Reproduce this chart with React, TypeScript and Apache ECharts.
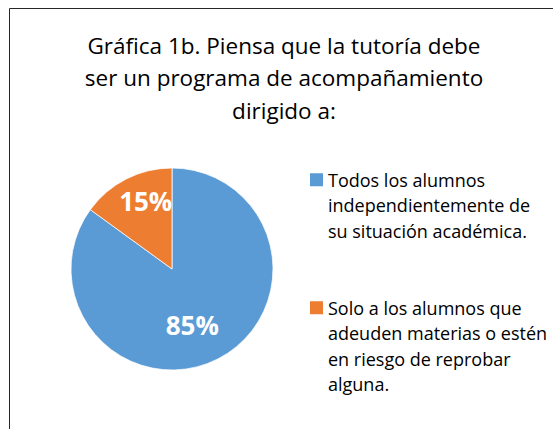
import React, { useEffect, useRef } from "react";
import * as echarts from "echarts";

const titleLines = [
  "Gráfica 1b. Piensa que la tutoría debe",
  "ser un programa de acompañamiento",
  "dirigido a:",
];
const categoryLines = [
  ["Todos los alumnos", "independientemente de", "su situación académica."],
  ["Solo a los alumnos que", "adeuden materias o estén", "en riesgo de reprobar", "alguna."],
];
const categories = categoryLines.map((l) => l.join(" "));
const values = [85, 15];
const colors = ["#5B9BD5", "#ED7D31"];

const FONT = '"Open Sans", sans-serif';
const LEG_LH = 25.5;
const ICON = 13;

function iconPath(nLines: number) {
  const h = nLines * LEG_LH;
  const t = LEG_LH / 2 - ICON / 2;
  return `path://M0 ${t}H${ICON}V${t + ICON}H0Z M0 0V${h}`;
}

export default function App() {
  const ref = useRef<HTMLDivElement>(null);
  useEffect(() => {
    if (!ref.current) return;
    const chart = echarts.init(ref.current, null, { renderer: "svg" });
    const legendTops = [167, 295];
    const legends = categories.map((name, i) => ({
      show: true,
      orient: "vertical",
      left: 310,
      top: legendTops[i],
      padding: 0,
      itemWidth: ICON,
      itemHeight: categoryLines[i].length * LEG_LH,
      itemGap: 0,
      itemStyle: { borderWidth: 0 },
      data: [{ name, icon: iconPath(categoryLines[i].length) }],
      formatter: (n: string) => categoryLines[categories.indexOf(n)].join("\n"),
      textStyle: {
        fontFamily: FONT,
        fontSize: 18,
        lineHeight: LEG_LH,
        color: "#000",
      },
      selectedMode: false,
    }));
    chart.setOption({
      animation: false,
      backgroundColor: "#fff",
      title: {
        text: titleLines.join("\n"),
        left: 284,
        textAlign: "center",
        top: 29,
        padding: 0,
        textStyle: {
          fontFamily: FONT,
          fontSize: 22.5,
          fontWeight: "normal",
          lineHeight: 32.5,
          color: "#000",
        },
      },
      legend: legends,
      graphic: [
        {
          type: "rect",
          shape: { x: 9.5, y: 8.5, width: 700, height: 600 },
          style: { fill: "none", stroke: "#262626", lineWidth: 1 },
          silent: true,
        },
      ],
      series: [
        {
          type: "pie",
          center: [172, 269],
          radius: 101,
          startAngle: 90,
          clockwise: true,
          color: colors,
          itemStyle: { borderColor: "#fff", borderWidth: 0.75 },
          label: {
            show: true,
            position: "inside",
            formatter: "{d}%",
            color: "#fff",
            fontFamily: FONT,
            fontWeight: "bold",
            fontSize: 26,
          },
          labelLine: { show: false },
          labelLayout: (p: any) =>
            p.dataIndex === 0 ? { dx: -4, dy: 8 } : { dx: -2, dy: -20 },
          data: categories.map((name, i) => ({ name, value: values[i] })),
        },
      ],
    });
    return () => chart.dispose();
  }, []);
  return (
    <div
      ref={ref}
      style={{ position: "absolute", left: 0, top: 0, width: 553, height: 429 }}
    />
  );
}
